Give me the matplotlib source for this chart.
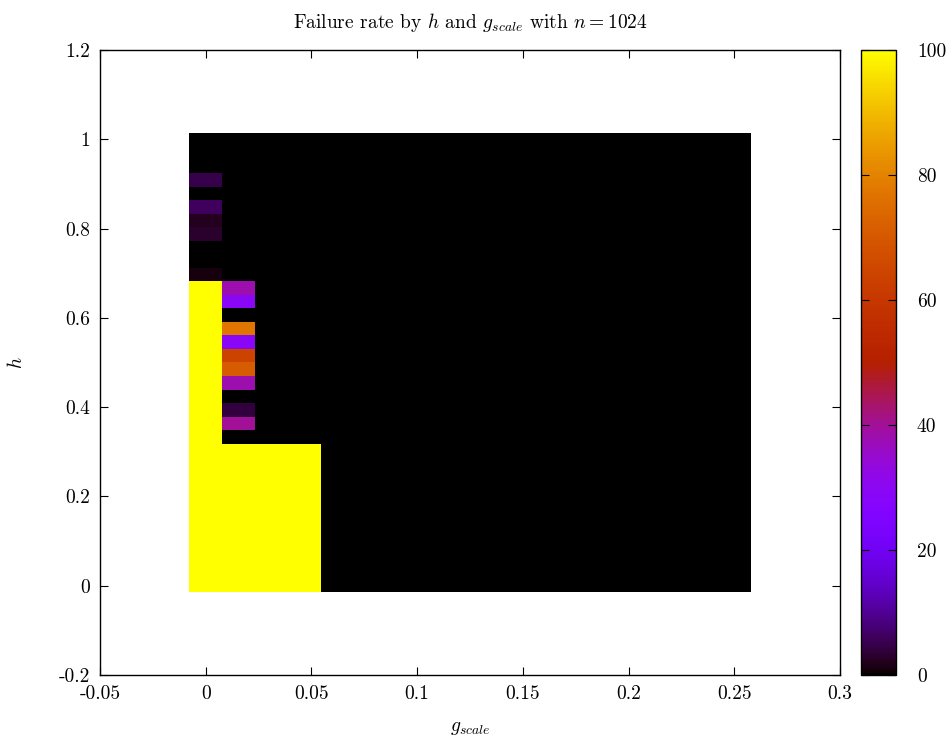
import numpy as np
import matplotlib
matplotlib.use("Agg")
import matplotlib.pyplot as plt
from matplotlib.ticker import MultipleLocator, FuncFormatter

plt.rcParams["font.family"] = "serif"
plt.rcParams["font.serif"] = ["cmr10"]
plt.rcParams["mathtext.fontset"] = "cm"
plt.rcParams["axes.unicode_minus"] = False
plt.rcParams["axes.formatter.use_mathtext"] = False

# grid of runs: g_scale in steps of 1/64, h in steps of 1/33
g_scale = np.arange(17) / 64.0
h_vals = np.arange(34) / 33.0

# failure rate (%) per h row, bottom (h=0) to top (h=1)
rate_g0 = [100] * 23 + [1, 0, 0, 3, 2, 6, 0, 5, 0, 0, 0]
rate_g1 = [100] * 11 + [0, 40, 4, 0, 38, 71, 64, 29, 77, 0, 29, 38] + [0] * 11
rate_g2 = [100] * 11 + [0] * 23
rate_g3 = [100] * 11 + [0] * 23
rate_rest = [0] * 34  # g_scale >= 4/64 never failed

columns = [rate_g0, rate_g1, rate_g2, rate_g3] + [rate_rest] * (len(g_scale) - 4)
rate = np.array(columns, dtype=float).T

fig = plt.figure(figsize=(9.5, 7.38), dpi=100)
ax = fig.add_axes([100 / 950, 63 / 738, 740 / 950, 625 / 738])
cax = fig.add_axes([861 / 950, 63 / 738, 35 / 950, 625 / 738])

mesh = ax.pcolormesh(g_scale, h_vals, rate, shading="nearest",
                     cmap="gnuplot", vmin=0, vmax=100)

ax.set_xlim(-0.05, 0.3)
ax.set_ylim(-0.2, 1.2)
ax.xaxis.set_major_locator(MultipleLocator(0.05))
ax.yaxis.set_major_locator(MultipleLocator(0.2))
fmt = FuncFormatter(lambda v, p: "%g" % round(v, 6))
ax.xaxis.set_major_formatter(fmt)
ax.yaxis.set_major_formatter(fmt)
ax.tick_params(direction="in", top=True, right=True, length=6, width=0.8,
               labelsize=14, pad=7)
for s in ax.spines.values():
    s.set_linewidth(1.0)

ax.set_title(r"Failure rate by $h$ and $g_{scale}$ with $n = 1024$",
             fontsize=14, pad=16)
ax.set_xlabel(r"$g_{scale}$", fontsize=14, labelpad=12)
ax.set_ylabel(r"$h$", fontsize=14, labelpad=24)

cb = fig.colorbar(mesh, cax=cax)
cb.set_ticks([0, 20, 40, 60, 80, 100])
cb.outline.set_linewidth(1.0)
cax.tick_params(direction="in", left=True, right=True, length=6, width=0.8,
                labelsize=14, pad=15)

fig.savefig("out.png", dpi=100)
